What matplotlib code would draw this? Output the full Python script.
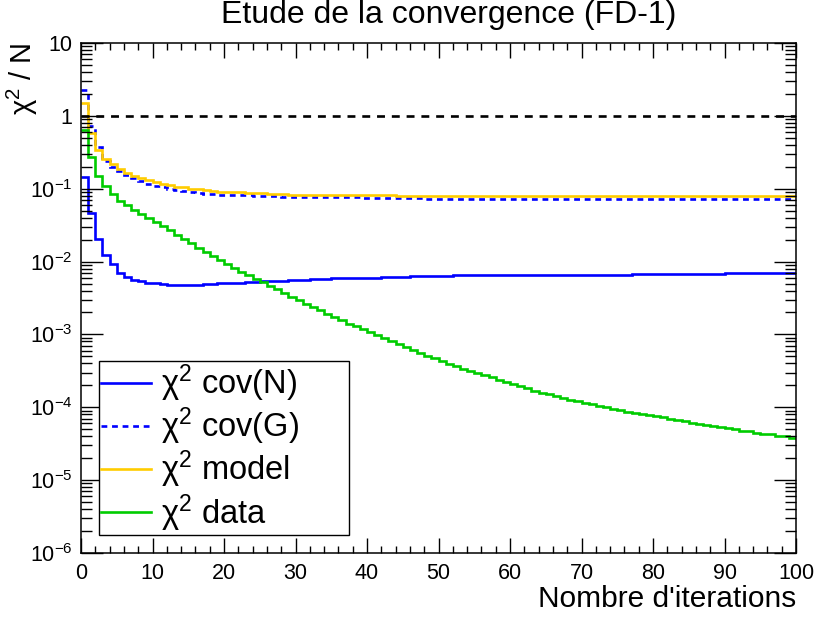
import numpy as np
import matplotlib
matplotlib.use('Agg')
import matplotlib.pyplot as plt
from matplotlib.ticker import MultipleLocator, LogLocator, FixedLocator, FixedFormatter, NullFormatter

plt.rcParams['font.family'] = ['Liberation Sans', 'DejaVu Sans']
plt.rcParams['mathtext.fontset'] = 'custom'
plt.rcParams['mathtext.rm'] = 'Liberation Sans'
plt.rcParams['mathtext.it'] = 'Liberation Sans'
plt.rcParams['mathtext.default'] = 'regular'

# one bin per iteration, 0..100
edges = np.arange(0, 101)

# log10(chi2/N) per bin
covN_log = [
	-0.84, -1.33, -1.69, -1.91, -2.04, -2.15, -2.21, -2.25, -2.27, -2.29,
	-2.30, -2.31, -2.32, -2.32, -2.32, -2.32, -2.32, -2.31, -2.31, -2.30,
	-2.30, -2.29, -2.29, -2.28, -2.28, -2.27, -2.27, -2.26, -2.26, -2.25,
	-2.25, -2.25, -2.24, -2.24, -2.24, -2.23, -2.23, -2.23, -2.22, -2.22,
	-2.22, -2.22, -2.21, -2.21, -2.21, -2.21, -2.20, -2.20, -2.20, -2.20,
	-2.20, -2.20, -2.19, -2.19, -2.19, -2.19, -2.19, -2.19, -2.19, -2.18,
	-2.18, -2.18, -2.18, -2.18, -2.18, -2.18, -2.18, -2.18, -2.18, -2.18,
	-2.18, -2.18, -2.18, -2.18, -2.18, -2.18, -2.18, -2.17, -2.17, -2.17,
	-2.17, -2.17, -2.17, -2.17, -2.17, -2.17, -2.17, -2.17, -2.17, -2.17,
	-2.16, -2.16, -2.16, -2.16, -2.16, -2.16, -2.16, -2.16, -2.16, -2.16,
]
covG_log = [
	0.35, -0.14, -0.43, -0.62, -0.70, -0.76, -0.81, -0.85, -0.89, -0.93,
	-0.96, -0.98, -1.00, -1.02, -1.03, -1.05, -1.06, -1.07, -1.07, -1.08,
	-1.08, -1.09, -1.09, -1.09, -1.10, -1.10, -1.10, -1.10, -1.11, -1.11,
	-1.11, -1.11, -1.11, -1.12, -1.12, -1.12, -1.12, -1.12, -1.12, -1.13,
	-1.13, -1.13, -1.13, -1.13, -1.13, -1.13, -1.13, -1.13, -1.14, -1.14,
	-1.14, -1.14, -1.14, -1.14, -1.14, -1.14, -1.14, -1.14, -1.14, -1.14,
	-1.14, -1.14, -1.14, -1.14, -1.14, -1.14, -1.14, -1.14, -1.14, -1.14,
	-1.14, -1.14, -1.14, -1.14, -1.14, -1.14, -1.14, -1.14, -1.14, -1.14,
	-1.14, -1.14, -1.14, -1.14, -1.14, -1.14, -1.14, -1.14, -1.14, -1.14,
	-1.14, -1.14, -1.14, -1.14, -1.14, -1.14, -1.14, -1.14, -1.14, -1.14,
]
model_log = [
	0.18, -0.24, -0.47, -0.59, -0.66, -0.73, -0.78, -0.82, -0.85, -0.88,
	-0.91, -0.93, -0.95, -0.97, -0.98, -1.00, -1.01, -1.02, -1.03, -1.04,
	-1.04, -1.05, -1.05, -1.06, -1.06, -1.06, -1.07, -1.07, -1.07, -1.08,
	-1.08, -1.08, -1.08, -1.08, -1.08, -1.09, -1.09, -1.09, -1.09, -1.09,
	-1.09, -1.09, -1.09, -1.09, -1.10, -1.10, -1.10, -1.10, -1.10, -1.10,
	-1.10, -1.10, -1.10, -1.10, -1.10, -1.10, -1.10, -1.10, -1.10, -1.10,
	-1.10, -1.10, -1.10, -1.10, -1.10, -1.10, -1.10, -1.10, -1.10, -1.10,
	-1.10, -1.10, -1.10, -1.10, -1.10, -1.10, -1.10, -1.10, -1.10, -1.10,
	-1.10, -1.10, -1.10, -1.10, -1.10, -1.10, -1.10, -1.10, -1.10, -1.10,
	-1.10, -1.10, -1.10, -1.10, -1.10, -1.10, -1.10, -1.10, -1.10, -1.10,
]
data_log = [
	-0.20, -0.57, -0.82, -0.96, -1.07, -1.17, -1.23, -1.29, -1.35, -1.40,
	-1.45, -1.51, -1.57, -1.63, -1.69, -1.75, -1.81, -1.87, -1.93, -1.98,
	-2.03, -2.09, -2.14, -2.19, -2.24, -2.28, -2.33, -2.38, -2.43, -2.48,
	-2.53, -2.58, -2.62, -2.67, -2.72, -2.76, -2.80, -2.85, -2.89, -2.93,
	-2.97, -3.01, -3.05, -3.09, -3.13, -3.17, -3.21, -3.25, -3.29, -3.33,
	-3.36, -3.40, -3.43, -3.47, -3.50, -3.53, -3.56, -3.59, -3.62, -3.65,
	-3.68, -3.71, -3.74, -3.77, -3.80, -3.82, -3.85, -3.87, -3.90, -3.92,
	-3.94, -3.96, -3.98, -4.00, -4.02, -4.04, -4.06, -4.08, -4.09, -4.11,
	-4.12, -4.14, -4.16, -4.18, -4.19, -4.21, -4.23, -4.24, -4.26, -4.27,
	-4.29, -4.30, -4.32, -4.33, -4.35, -4.36, -4.37, -4.39, -4.40, -4.42,
]
labels = [r"$\chi^2$ cov(N)", r"$\chi^2$ cov(G)", r"$\chi^2$ model", r"$\chi^2$ data"]
ref_level = 1.0

ytick_vals = [1e-6, 1e-5, 1e-4, 1e-3, 1e-2, 1e-1, 1, 10]
ytick_labels = [r"$10^{-6}$", r"$10^{-5}$", r"$10^{-4}$", r"$10^{-3}$", r"$10^{-2}$", r"$10^{-1}$", "1", "10"]

fig = plt.figure(figsize=(8.17, 6.17), dpi=100)
ax = fig.add_axes([81/817, 1 - 553/617, 715/817, 510/617])

lw = 1.9
ax.stairs(np.power(10.0, covN_log), edges, baseline=None, color="#0000ff", lw=lw, label=labels[0])
ax.stairs(np.power(10.0, covG_log), edges, baseline=None, color="#0000ff", lw=lw,
	linestyle=(0, (2.2, 1.8)), label=labels[1])
ax.stairs(np.power(10.0, model_log), edges, baseline=None, color="#ffcc00", lw=lw, label=labels[2])
ax.stairs(np.power(10.0, data_log), edges, baseline=None, color="#00cc00", lw=lw, label=labels[3])
ax.axhline(ref_level, color="black", lw=lw, linestyle=(0, (3.0, 2.6)))

ax.set_yscale("log")
ax.set_xlim(0, 100)
ax.set_ylim(1e-6, 10)

ax.xaxis.set_major_locator(MultipleLocator(10))
ax.xaxis.set_minor_locator(MultipleLocator(2))
ax.yaxis.set_major_locator(FixedLocator(ytick_vals))
ax.yaxis.set_major_formatter(FixedFormatter(ytick_labels))
ax.yaxis.set_minor_locator(LogLocator(base=10, subs=np.arange(2, 10)))
ax.yaxis.set_minor_formatter(NullFormatter())

ax.tick_params(axis="both", which="both", direction="in", top=True, right=True, width=1.0, color="black")
ax.tick_params(axis="x", which="major", length=11, labelsize=15.5, pad=7)
ax.tick_params(axis="x", which="minor", length=5)
ax.tick_params(axis="y", which="major", length=16, labelsize=15.5, pad=6)
ax.tick_params(axis="y", which="minor", length=8)
for sp in ax.spines.values():
	sp.set_linewidth(1.1)

leg = ax.legend(loc="lower left", bbox_to_anchor=(0.025, 0.035, 0.35, 0.34), mode="expand",
	fontsize=23.5, frameon=True, fancybox=False, edgecolor="black", framealpha=1.0,
	handlelength=1.55, handletextpad=0.3, labelspacing=0.05, borderpad=0.05, borderaxespad=0.0)
leg.get_frame().set_linewidth(1.0)

fig.text(449/817, 1 - 15/617, "Etude de la convergence (FD-1)", ha="center", va="center", fontsize=23)
ax.set_xlabel("Nombre d'iterations", fontsize=21.5, ha="right")
ax.xaxis.set_label_coords(1.0, -0.062, transform=ax.transAxes)
ax.xaxis.label.set_va("top")
fig.text(22/817, 1 - 42/617, r"$\chi^2$ / N", rotation=90, ha="center", va="top", fontsize=21)

fig.savefig("out.png", dpi=100)
